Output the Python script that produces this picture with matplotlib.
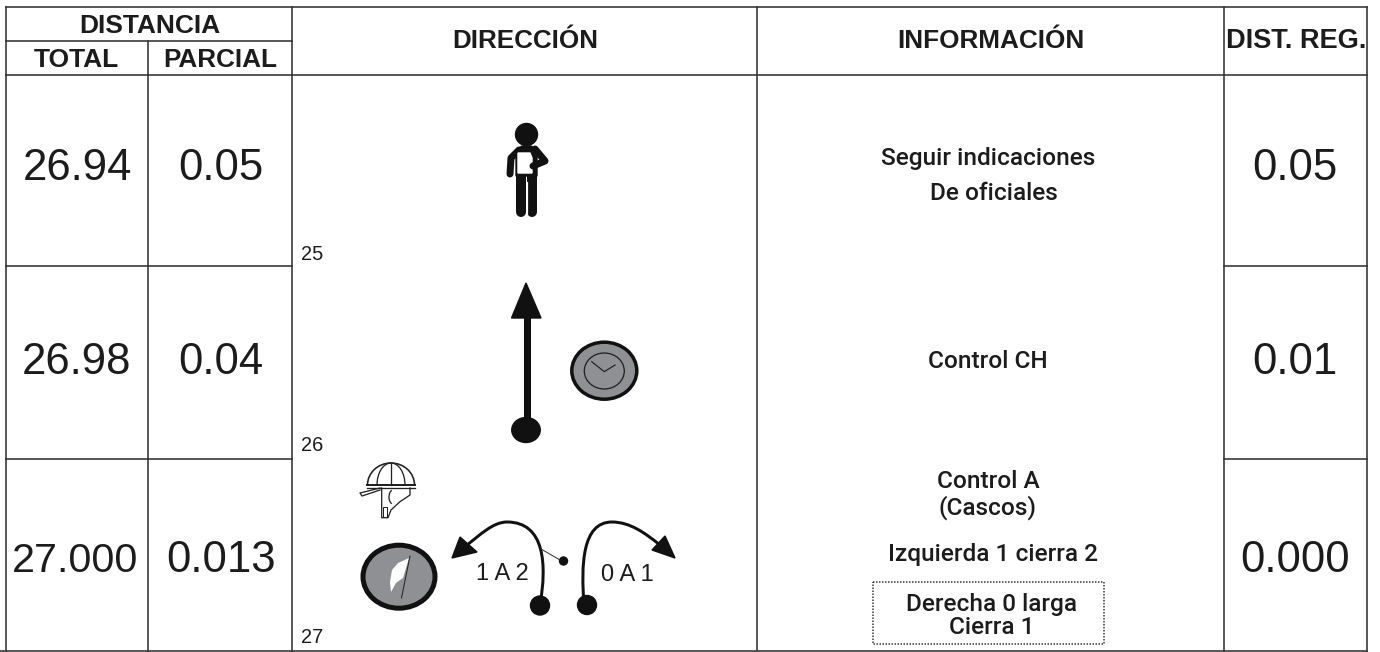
#!/usr/bin/env python3
# -*- coding: utf-8 -*-

import matplotlib
matplotlib.use("Agg")
import matplotlib.pyplot as plt
from matplotlib.patches import Circle, Ellipse, Polygon, PathPatch, Rectangle, Arc
from matplotlib.path import Path

# table contents
header_top = "DISTANCIA"
header_sub = ["TOTAL", "PARCIAL"]
header_main = ["DIRECCIÓN", "INFORMACIÓN", "DIST. REG."]
total = ["26.94", "26.98", "27.000"]
parcial = ["0.05", "0.04", "0.013"]
dist_reg = ["0.05", "0.01", "0.000"]
box_no = ["25", "26", "27"]
info_lines = ["Seguir indicaciones", "De oficiales", "Control CH", "Control A", "(Cascos)", "Izquierda 1 cierra 2"]
info_box = ["Derecha 0 larga", "Cierra 1"]
turn_labels = ["1 A 2", "0 A 1"]

DARK = "#1c1c1c"
LINE = "#333333"
GREY = "#8e9093"

# column edges and row edges in pixels
xs = [6, 148, 292, 757, 1224, 1367]
ys = [7, 41, 75, 266, 459, 651]
row_y = [169, 362, 561]


def px(w):
    """pixel width to points"""
    return w * 0.72


def draw_grid(ax):
    for x in [xs[0], xs[2], xs[3], xs[4], xs[5]]:
        ax.plot([x, x], [ys[0], ys[5]], color=LINE, lw=px(1.6))
    ax.plot([xs[1], xs[1]], [ys[1], ys[5]], color=LINE, lw=px(1.6))
    ax.plot([xs[0], xs[5]], [ys[0], ys[0]], color=LINE, lw=px(1.6))
    ax.plot([xs[0], xs[2]], [ys[1], ys[1]], color=LINE, lw=px(1.6))
    ax.plot([xs[0], xs[5]], [ys[2], ys[2]], color=LINE, lw=px(1.6))
    ax.plot([0, xs[5]], [ys[5], ys[5]], color=LINE, lw=px(1.6))
    for y in ys[3:5]:
        ax.plot([xs[0], xs[2]], [y, y], color=LINE, lw=px(1.6))
        ax.plot([xs[4], xs[5]], [y, y], color=LINE, lw=px(1.6))


def draw_text(ax):
    bold = dict(family="Liberation Sans", weight="bold", color=DARK, ha="center", va="center")
    ax.text(150, 26, header_top, fontsize=19, **bold)
    ax.text(76, 60, header_sub[0], fontsize=19, **bold)
    ax.text(220, 60, header_sub[1], fontsize=18.8, **bold)
    ax.text(525.5, 41, header_main[0], fontsize=18.7, **bold)
    ax.text(991, 41, header_main[1], fontsize=18.8, **bold)
    ax.text(1296, 41, header_main[2], fontsize=19.5, **bold)

    num = dict(family="Liberation Sans", color=DARK, ha="center", va="center")
    for i in range(3):
        ax.text(77 if i < 2 else 75.5, row_y[i], total[i], fontsize=31.5 if i < 2 else 29.7, **num)
        ax.text(221, row_y[i], parcial[i], fontsize=31.5, **num)
        ax.text(1295, row_y[i], dist_reg[i], fontsize=31.5, **num)

    no_y = [260, 451, 643]
    for i in range(3):
        ax.text(301, no_y[i], box_no[i], family="Liberation Sans", fontsize=14.4,
                color=DARK, ha="left", va="baseline")

    info = dict(family="Roboto", weight="medium", color=DARK, ha="center", va="center", fontsize=17.6)
    info_pos = [(988, 159), (994, 194), (988, 361), (988, 482), (988, 508), (993, 555)]
    for (x, y), s in zip(info_pos, info_lines):
        ax.text(x, y, s, **info)
    ax.text(992, 604, info_box[0], **info)
    ax.text(992, 628, info_box[1], **info)
    ax.add_patch(Rectangle((873, 582), 231, 62, fill=False, ec=LINE, lw=px(1.5), ls=(0, (1, 1))))

    lab = dict(family="Liberation Sans", color=DARK, ha="center", va="center", fontsize=17)
    ax.text(502, 574, turn_labels[0], **lab)
    ax.text(627, 575, turn_labels[1], **lab)


def draw_person(ax):
    k = "#111111"
    ax.add_patch(Circle((526.5, 134.5), 11, color=k))
    ax.add_patch(Polygon([(516, 150), (522, 146), (531, 146), (537, 150), (537, 176), (516, 176)], color=k))
    ax.plot([521, 521], [172, 212], color=k, lw=px(10), solid_capstyle="round")
    ax.plot([532, 532], [172, 212], color=k, lw=px(10), solid_capstyle="round")
    ax.plot([526.5, 526.5], [182, 217], color="white", lw=px(1.2))
    ax.plot([519, 511, 510], [150, 158, 174], color=k, lw=px(7), solid_capstyle="round", solid_joinstyle="round")
    ax.add_patch(Polygon([(518, 153), (530, 153), (532, 158), (532, 173), (518, 173)], color="white", zorder=3))
    ax.plot([535, 545, 533], [149, 161, 166], color=k, lw=px(7), solid_capstyle="round",
            solid_joinstyle="round", zorder=4)


def draw_straight(ax):
    k = "#111111"
    ax.plot([526.5, 526.5], [315, 430], color=k, lw=px(7), solid_capstyle="butt")
    ax.add_patch(Polygon([(526, 283), (541, 318), (511.5, 318)], color=k))
    ax.add_patch(Ellipse((526, 430), 28.5, 25, color=k))


def draw_clock(ax):
    ax.add_patch(Ellipse((604.3, 370.7), 65, 57, fc=GREY, ec="#111111", lw=px(3.5)))
    ax.add_patch(Ellipse((604.3, 371), 40, 36, fill=False, ec="#222222", lw=px(1.3)))
    ax.plot([591.7, 604.3, 615], [361.7, 371.7, 365], color="#222222", lw=px(1.2))


def draw_helmet(ax):
    c = "#222222"
    lw = px(1.3)
    ax.add_patch(Arc((391, 485), 47, 44, theta1=180, theta2=360, ec=c, lw=px(1.6)))
    ax.add_patch(Arc((391, 485), 28, 44, theta1=180, theta2=360, ec=c, lw=lw))
    ax.plot([391, 391], [463, 485], color=c, lw=lw)
    ax.plot([367, 415], [485, 485], color=c, lw=px(2))
    ax.plot([367, 415], [488, 488], color=c, lw=lw)
    # visor
    ax.plot([380, 360, 362, 380], [488, 493, 496, 490], color=c, lw=lw)
    # neck guard
    ax.plot([381.7, 381.7, 388, 391, 400, 410, 410], [488, 517.7, 517.7, 510, 501.7, 495, 488], color=c, lw=lw)
    ax.add_patch(Rectangle((383, 507), 4, 10, fill=False, ec=c, lw=px(1)))
    ax.add_patch(Arc((393, 497), 8, 14, theta1=100, theta2=260, ec=c, lw=lw))


def draw_flag(ax):
    ax.add_patch(Ellipse((399, 576.7), 72, 63, fc=GREY, ec="#111111", lw=px(5)))
    ax.plot([410, 401.5], [556, 598], color="#222222", lw=px(1))
    ax.add_patch(Polygon([(409, 558), (398, 563), (392, 570), (390, 582), (391, 592), (396, 583),
                          (403, 578)], fc="white", ec="none"))


def curve(ax, pts):
    codes = [Path.MOVETO] + [Path.CURVE4] * (len(pts) - 1)
    ax.add_patch(PathPatch(Path(pts, codes), fc="none", ec="#111111", lw=px(3)))


def draw_turns(ax):
    k = "#111111"
    # left turn
    curve(ax, [(540, 605), (547, 565), (545, 522), (507, 522),
               (493, 522), (480, 535), (467, 545)])
    ax.add_patch(Polygon([(452, 558), (460, 537), (477, 552)], color=k))
    ax.add_patch(Ellipse((540, 605.5), 19, 19, color=k))
    ax.plot([541, 560], [549, 560], color="#333333", lw=px(1))
    ax.add_patch(Circle((563.5, 561), 4, color=k))
    # right turn
    curve(ax, [(584, 605), (581, 565), (582, 522), (612, 522),
               (630, 522), (645, 533), (660, 545)])
    ax.add_patch(Polygon([(675, 558), (652, 550), (665, 536)], color=k))
    ax.add_patch(Ellipse((587, 605), 19, 19, color=k))


if __name__ == "__main__":
    fig = plt.figure(figsize=(13.8, 6.52), dpi=100)
    ax = fig.add_axes([0, 0, 1, 1])
    ax.set_xlim(0, 1380)
    ax.set_ylim(652, 0)
    ax.axis("off")

    draw_grid(ax)
    draw_text(ax)
    draw_person(ax)
    draw_straight(ax)
    draw_clock(ax)
    draw_helmet(ax)
    draw_flag(ax)
    draw_turns(ax)

    fig.savefig("out.png", dpi=100, facecolor="white")
